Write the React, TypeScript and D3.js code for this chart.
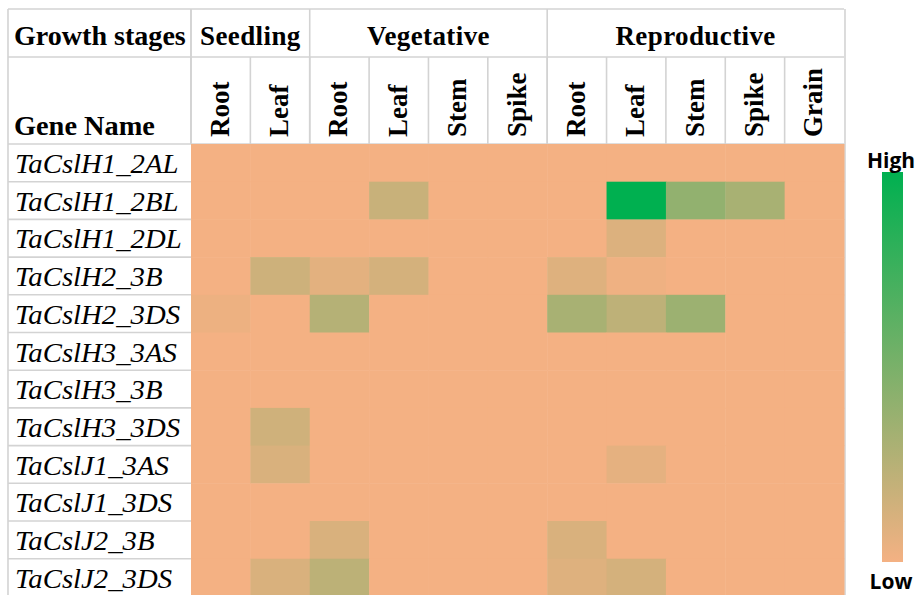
import React from "react";
import * as d3 from "d3";

// growth stages and the tissue sampled in each column
const stages = ["Seedling", "Vegetative", "Reproductive"];
const tissues = ["Root", "Leaf", "Root", "Leaf", "Stem", "Spike", "Root", "Leaf", "Stem", "Spike", "Grain"];
const tissueStage = [0, 0, 1, 1, 1, 1, 2, 2, 2, 2, 2];

const genes = [
  "TaCslH1_2AL",
  "TaCslH1_2BL",
  "TaCslH1_2DL",
  "TaCslH2_3B",
  "TaCslH2_3DS",
  "TaCslH3_3AS",
  "TaCslH3_3B",
  "TaCslH3_3DS",
  "TaCslJ1_3AS",
  "TaCslJ1_3DS",
  "TaCslJ2_3B",
  "TaCslJ2_3DS",
];

// relative expression (0 = low, 1 = high), one row per gene
const expression = [
  [0, 0, 0, 0, 0, 0, 0, 0, 0, 0, 0],
  [0, 0, 0, 0.18, 0, 0, 0, 1, 0.4, 0.31, 0],
  [0, 0, 0, 0, 0, 0, 0, 0.1, 0, 0, 0],
  [0, 0.16, 0.07, 0.13, 0, 0, 0.09, 0.02, 0, 0, 0],
  [0.03, 0, 0.26, 0, 0, 0, 0.31, 0.22, 0.36, 0, 0],
  [0, 0, 0, 0, 0, 0, 0, 0, 0, 0, 0],
  [0, 0, 0, 0, 0, 0, 0, 0, 0, 0, 0],
  [0, 0.15, 0, 0, 0, 0, 0, 0, 0, 0, 0],
  [0, 0.11, 0, 0, 0, 0, 0, 0.06, 0, 0, 0],
  [0, 0, 0, 0, 0, 0, 0, 0, 0, 0, 0],
  [0, 0, 0.11, 0, 0, 0, 0.11, 0, 0, 0, 0],
  [0, 0.11, 0.23, 0, 0, 0, 0.09, 0.13, 0, 0, 0],
];

const legendLabels = ["High", "Low"];

const W = 919;
const H = 595;
const left = 8;
const labelRight = 191;
const right = 844;
const top = 9;
const stageBottom = 57;
const headBottom = 144;
const rowH = 37.7;
const grid = "#d3d3d3";
const serif = "'Liberation Serif', 'Times New Roman', serif";

export default function App() {
  const x = d3
    .scaleBand<number>()
    .domain(d3.range(tissues.length))
    .range([labelRight, right]);
  const y = d3
    .scaleBand<string>()
    .domain(genes)
    .range([headBottom, headBottom + rowH * genes.length]);
  const color = d3
    .scaleLinear<string>()
    .domain([0, 1])
    .range(["#F4B183", "#00B050"])
    .interpolate(d3.interpolateRgb);

  // first and last column of each stage
  const stageSpans = stages.map((s, i) => {
    const cols = tissueStage.map((st, c) => (st === i ? c : -1)).filter((c) => c >= 0);
    const x0 = x(cols[0])!;
    const x1 = x(cols[cols.length - 1])! + x.bandwidth();
    return { s, x0, x1 };
  });

  const legendY = d3.scaleLinear().domain([1, 0]).range([172, 562]);

  return (
    <svg
      width={W}
      height={H}
      style={{ position: "absolute", left: 0, top: 0, background: "#fff" }}
    >
      <defs>
        <linearGradient id="legendGrad" x1="0" y1="0" x2="0" y2="1">
          <stop offset="0%" stopColor={color(1)} />
          <stop offset="100%" stopColor={color(0)} />
        </linearGradient>
      </defs>

      {/* header grid */}
      <g stroke={grid} strokeWidth={1.6}>
        <line x1={left} x2={right} y1={top} y2={top} />
        <line x1={left} x2={right} y1={stageBottom} y2={stageBottom} />
        <line x1={left} x2={right} y1={headBottom} y2={headBottom} />
        <line x1={left} x2={left} y1={top} y2={H} />
        <line x1={labelRight} x2={labelRight} y1={top} y2={headBottom} />
        <line x1={right + 1} x2={right + 1} y1={top} y2={H} />
        {stageSpans.map((d) => (
          <line key={d.s} x1={d.x0} x2={d.x0} y1={top} y2={headBottom} />
        ))}
        {tissues.map((t, i) => (
          <line key={i} x1={x(i)} x2={x(i)} y1={stageBottom} y2={headBottom} />
        ))}
        {genes.map((g) => (
          <line key={g} x1={left} x2={labelRight} y1={y(g)! + rowH} y2={y(g)! + rowH} />
        ))}
      </g>

      {/* header text */}
      <g fontFamily={serif} fontWeight="bold" fontSize={27} fill="#000">
        <text transform="translate(14,45) scale(1.04,1)">Growth stages</text>
        <text transform="translate(14,135) scale(1.05,1)">Gene Name</text>
        {stageSpans.map((d) => (
          <text key={d.s} x={(d.x0 + d.x1) / 2} y={45} textAnchor="middle" letterSpacing={0.4}>
            {d.s}
          </text>
        ))}
        {tissues.map((t, i) => (
          <text
            key={i}
            transform={`translate(${x(i)! + x.bandwidth() / 2 + 8},137) rotate(-90)`}
          >
            {t}
          </text>
        ))}
      </g>

      {/* gene names */}
      <g fontFamily={serif} fontStyle="italic" fontSize={27} fill="#000">
        {genes.map((g) => (
          <text key={g} transform={`translate(15,${y(g)! + 29}) scale(1.065,1)`}>
            {g}
          </text>
        ))}
      </g>

      {/* heatmap cells */}
      <g>
        {genes.map((g, r) =>
          expression[r].map((v, c) => (
            <rect
              key={`${g}-${c}`}
              x={x(c)}
              y={y(g)}
              width={x.bandwidth() + 0.5}
              height={y.bandwidth() + 0.5}
              fill={color(v)}
            />
          ))
        )}
      </g>

      {/* legend */}
      <rect
        x={882}
        y={legendY(1)}
        width={21}
        height={legendY(0) - legendY(1)}
        fill="url(#legendGrad)"
      />
      <g fontFamily="'Open Sans', sans-serif" fontWeight="bold" fontSize={21} fill="#000" textAnchor="middle">
        <text x={891} y={168}>{legendLabels[0]}</text>
        <text x={891} y={589}>{legendLabels[1]}</text>
      </g>
    </svg>
  );
}
